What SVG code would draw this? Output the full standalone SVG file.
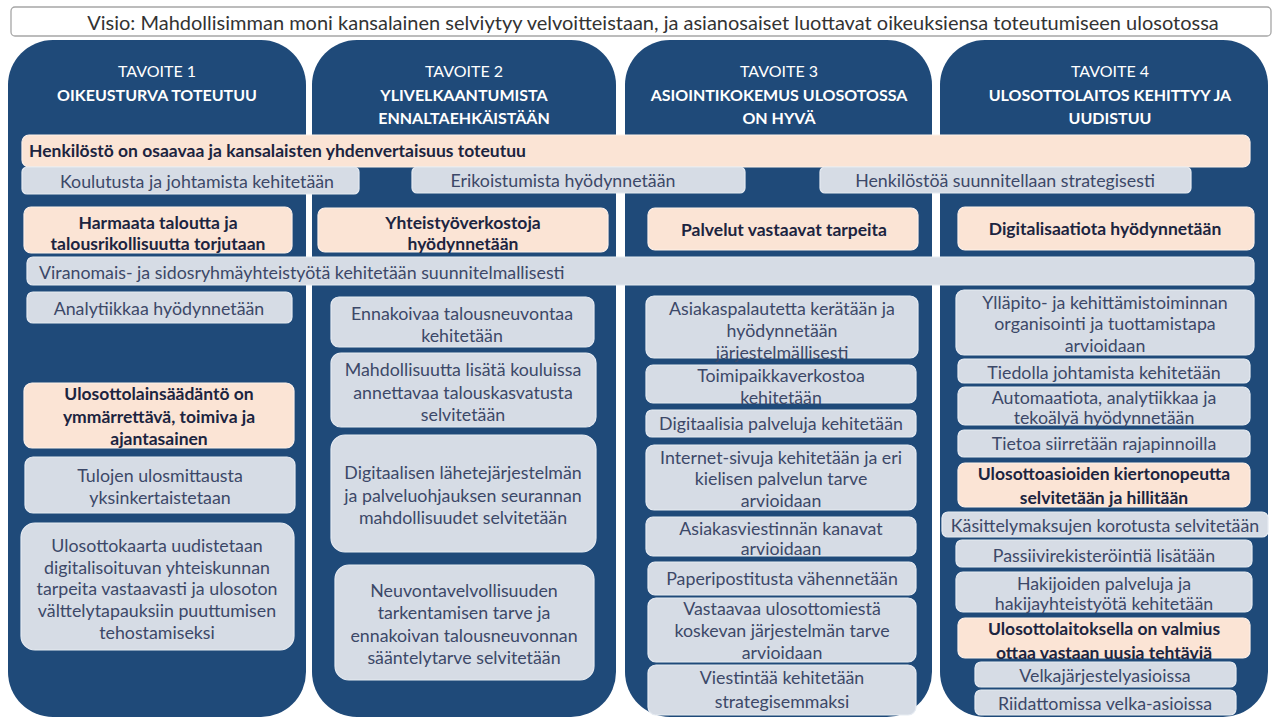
<svg xmlns="http://www.w3.org/2000/svg" width="1276" height="718" viewBox="0 0 1276 718">
<style>
text{font-family:Lato,"Liberation Sans",sans-serif;text-anchor:middle;dominant-baseline:central}
.col{fill:#1f4a79}
.g{fill:#d6dce5;stroke:#e6ebf2;stroke-width:1.2}
.o{fill:#fbe4d5;stroke:#fdf1ea;stroke-width:1.2}
.t{font-size:17.8px;fill:#3c4868}
.b{font-size:17.5px;font-weight:bold;fill:#1c2440}
.h1{font-size:16px;fill:#ffffff}
.h2{font-size:16px;font-weight:bold;fill:#ffffff}
.vis{font-size:20px;fill:#333333}
</style>
<rect width="1276" height="718" fill="#ffffff"/>
<g id="vision">
<rect x="11" y="7" width="1260" height="29" rx="4" fill="#ffffff" stroke="#a6a6a6" stroke-width="1.3"/>
<text class="vis" x="653" y="22">Visio: Mahdollisimman moni kansalainen selviytyy velvoitteistaan, ja asianosaiset luottavat oikeuksiensa toteutumiseen ulosotossa</text>
</g>
<g id="col1"><rect class="col" x="8" y="40" width="298" height="677" rx="45"/>
<text class="h1" x="157" y="70">TAVOITE 1</text><text class="h2" x="157" y="94">OIKEUSTURVA TOTEUTUU</text></g>
<g id="col2"><rect class="col" x="312" y="40" width="304" height="677" rx="45"/>
<text class="h1" x="464" y="70">TAVOITE 2</text><text class="h2" x="464" y="94">YLIVELKAANTUMISTA</text><text class="h2" x="464" y="117">ENNALTAEHKÄISTÄÄN</text></g>
<g id="col3"><rect class="col" x="625" y="40" width="307" height="677" rx="45"/>
<text class="h1" x="779" y="70">TAVOITE 3</text><text class="h2" x="779" y="94">ASIOINTIKOKEMUS ULOSOTOSSA</text><text class="h2" x="779" y="117">ON HYVÄ</text></g>
<g id="col4"><rect class="col" x="940" y="40" width="328" height="677" rx="45"/>
<text class="h1" x="1110" y="70">TAVOITE 4</text><text class="h2" x="1110" y="94">ULOSOTTOLAITOS KEHITTYY JA</text><text class="h2" x="1110" y="117">UUDISTUU</text></g>

<g id="henkilosto"><rect class="o" x="22" y="135" width="1228" height="32" rx="7"/>
<text class="b" x="29" y="150" style="text-anchor:start">Henkilöstö on osaavaa ja kansalaisten yhdenvertaisuus toteutuu</text></g>
<g id="koulutusta"><rect class="g" x="22" y="167" width="337" height="27" rx="5"/><text class="t" x="197" y="181">Koulutusta ja johtamista kehitetään</text></g>
<g id="erikoistumista"><rect class="g" x="412" y="167" width="333" height="26" rx="5"/><text class="t" x="563" y="180">Erikoistumista hyödynnetään</text></g>
<g id="henkilostoa"><rect class="g" x="820" y="167" width="371" height="26" rx="5"/><text class="t" x="1005" y="180">Henkilöstöä suunnitellaan strategisesti</text></g>

<g id="harmaata"><rect class="o" x="24" y="207" width="268" height="46" rx="7"/><text class="b" x="158" y="222">Harmaata taloutta ja</text><text class="b" x="158" y="243">talousrikollisuutta torjutaan</text></g>
<g id="yhteistyo"><rect class="o" x="318" y="208" width="290" height="44" rx="7"/><text class="b" x="463" y="222">Yhteistyöverkostoja</text><text class="b" x="463" y="243">hyödynnetään</text></g>
<g id="palvelut"><rect class="o" x="648" y="208" width="270" height="42" rx="7"/><text class="b" x="784" y="229">Palvelut vastaavat tarpeita</text></g>
<g id="digitalisaatio"><rect class="o" x="958" y="207" width="296" height="43" rx="7"/><text class="b" x="1105" y="228">Digitalisaatiota hyödynnetään</text></g>

<g id="viranomais"><rect class="g" x="27" y="257" width="1227" height="28" rx="6"/>
<text class="t" x="39" y="272" style="text-anchor:start">Viranomais- ja sidosryhmäyhteistyötä kehitetään suunnitelmallisesti</text></g>

<g id="analytiikka"><rect class="g" x="27" y="292" width="265" height="31" rx="6"/><text class="t" x="159" y="308">Analytiikkaa hyödynnetään</text></g>
<g id="lainsaadanto"><rect class="o" x="24" y="383" width="270" height="65" rx="8"/><text class="b" x="159" y="393">Ulosottolainsäädäntö on</text><text class="b" x="159" y="416">ymmärrettävä, toimiva ja</text><text class="b" x="159" y="438">ajantasainen</text></g>
<g id="tulojen"><rect class="g" x="25" y="457" width="270" height="56" rx="8"/><text class="t" x="160" y="475">Tulojen ulosmittausta</text><text class="t" x="160" y="497">yksinkertaistetaan</text></g>
<g id="ulosottokaari"><rect class="g" x="21" y="523" width="273" height="127" rx="14"/><text class="t" x="157" y="545">Ulosottokaarta uudistetaan</text><text class="t" x="157" y="567">digitalisoituvan yhteiskunnan</text><text class="t" x="157" y="588">tarpeita vastaavasti ja ulosoton</text><text class="t" x="157" y="610">välttelytapauksiin puuttumisen</text><text class="t" x="157" y="632">tehostamiseksi</text></g>

<g id="ennakoivaa"><rect class="g" x="331" y="297" width="263" height="50" rx="8"/><text class="t" x="462" y="313">Ennakoivaa talousneuvontaa</text><text class="t" x="462" y="335">kehitetään</text></g>
<g id="mahdollisuutta"><rect class="g" x="331" y="353" width="265" height="74" rx="10"/><text class="t" x="463" y="369">Mahdollisuutta lisätä kouluissa</text><text class="t" x="463" y="392">annettavaa talouskasvatusta</text><text class="t" x="463" y="414">selvitetään</text></g>
<g id="digitaalisen"><rect class="g" x="331" y="435" width="265" height="117" rx="14"/><text class="t" x="463" y="472">Digitaalisen lähetejärjestelmän</text><text class="t" x="463" y="495">ja palveluohjauksen seurannan</text><text class="t" x="463" y="517">mahdollisuudet selvitetään</text></g>
<g id="neuvonta"><rect class="g" x="335" y="565" width="259" height="115" rx="14"/><text class="t" x="464" y="590">Neuvontavelvollisuuden</text><text class="t" x="464" y="612">tarkentamisen tarve ja</text><text class="t" x="464" y="635">ennakoivan talousneuvonnan</text><text class="t" x="464" y="657">sääntelytarve selvitetään</text></g>

<g id="asiakaspalaute"><rect class="g" x="646" y="296" width="272" height="62" rx="8"/><text class="t" x="782" y="308">Asiakaspalautetta kerätään ja</text><text class="t" x="782" y="330">hyödynnetään</text><text class="t" x="782" y="352">järjestelmällisesti</text></g>
<g id="toimipaikka"><rect class="g" x="646" y="365" width="270" height="38" rx="7"/><text class="t" x="781" y="375">Toimipaikkaverkostoa</text><text class="t" x="781" y="397">kehitetään</text></g>
<g id="digitaalisia"><rect class="g" x="646" y="410" width="270" height="27" rx="6"/><text class="t" x="781" y="423">Digitaalisia palveluja kehitetään</text></g>
<g id="internet"><rect class="g" x="646" y="445" width="270" height="65" rx="8"/><text class="t" x="781" y="457">Internet-sivuja kehitetään ja eri</text><text class="t" x="781" y="478">kielisen palvelun tarve</text><text class="t" x="781" y="500">arvioidaan</text></g>
<g id="asiakasviestinta"><rect class="g" x="646" y="517" width="270" height="39" rx="7"/><text class="t" x="781" y="528">Asiakasviestinnän kanavat</text><text class="t" x="781" y="548">arvioidaan</text></g>
<g id="paperi"><rect class="g" x="648" y="562" width="268" height="33" rx="7"/><text class="t" x="782" y="578">Paperipostitusta vähennetään</text></g>
<g id="vastaavaa"><rect class="g" x="648" y="598" width="268" height="64" rx="8"/><text class="t" x="782" y="608">Vastaavaa ulosottomiestä</text><text class="t" x="782" y="630">koskevan järjestelmän tarve</text><text class="t" x="782" y="652">arvioidaan</text></g>
<g id="viestinta"><rect class="g" x="648" y="665" width="268" height="50" rx="8"/><text class="t" x="782" y="677">Viestintää kehitetään</text><text class="t" x="782" y="701">strategisemmaksi</text></g>

<g id="yllapito"><rect class="g" x="956" y="290" width="298" height="65" rx="8"/><text class="t" x="1105" y="302">Ylläpito- ja kehittämistoiminnan</text><text class="t" x="1105" y="323">organisointi ja tuottamistapa</text><text class="t" x="1105" y="345">arvioidaan</text></g>
<g id="tiedolla"><rect class="g" x="958" y="359" width="292" height="24" rx="6"/><text class="t" x="1104" y="372">Tiedolla johtamista kehitetään</text></g>
<g id="automaatio"><rect class="g" x="958" y="387" width="292" height="38" rx="7"/><text class="t" x="1104" y="397">Automaatiota, analytiikkaa ja</text><text class="t" x="1104" y="417">tekoälyä hyödynnetään</text></g>
<g id="tietoa"><rect class="g" x="958" y="430" width="292" height="27" rx="6"/><text class="t" x="1104" y="443">Tietoa siirretään rajapinnoilla</text></g>
<g id="kiertonopeus"><rect class="o" x="958" y="463" width="292" height="44" rx="7"/><text class="b" x="1104" y="473">Ulosottoasioiden kiertonopeutta</text><text class="b" x="1104" y="497">selvitetään ja hillitään</text></g>
<g id="kasittelymaksut"><rect class="g" x="942" y="512" width="326" height="25" rx="6"/><text class="t" x="1105" y="525">Käsittelymaksujen korotusta selvitetään</text></g>
<g id="passiivi"><rect class="g" x="956" y="540" width="296" height="27" rx="6"/><text class="t" x="1104" y="555">Passiivirekisteröintiä lisätään</text></g>
<g id="hakijat"><rect class="g" x="956" y="572" width="296" height="40" rx="7"/><text class="t" x="1104" y="583">Hakijoiden palveluja ja</text><text class="t" x="1104" y="603">hakijayhteistyötä kehitetään</text></g>
<g id="valmius"><rect class="o" x="958" y="618" width="292" height="40" rx="7"/><text class="b" x="1104" y="628">Ulosottolaitoksella on valmius</text><text class="b" x="1104" y="652">ottaa vastaan uusia tehtäviä</text></g>
<g id="velkajarjestely"><rect class="g" x="975" y="662" width="261" height="25" rx="6"/><text class="t" x="1105" y="675">Velkajärjestelyasioissa</text></g>
<g id="riidattomat"><rect class="g" x="975" y="690" width="261" height="25" rx="6"/><text class="t" x="1105" y="703">Riidattomissa velka-asioissa</text></g>
<g id="connectors"></g>
</svg>
